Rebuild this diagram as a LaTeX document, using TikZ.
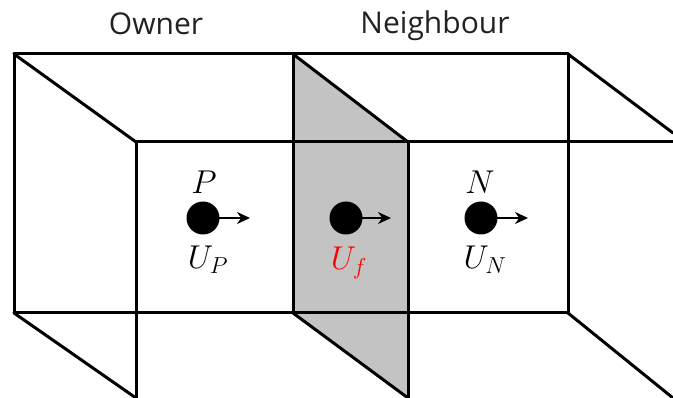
\RequirePackage{fix-cm}
\documentclass[tikz,border=0pt]{standalone}
\usepackage{fontspec}
\setmainfont{Open Sans}
\usetikzlibrary{arrows.meta}
\definecolor{facegray}{HTML}{C3C3C3}
\definecolor{labelink}{HTML}{222222}
\begin{document}
\begin{tikzpicture}[
    x=1pt,y=-1pt,
    edge/.style={draw,line width=3pt,line cap=round,line join=round},
    cell/.style={inner sep=0pt,text=labelink,font=\fontsize{30}{34}\selectfont},
    sym/.style={inner sep=0pt,font=\fontsize{33}{38}\selectfont},
    dot/.style={circle,fill=black,inner sep=0pt,outer sep=0pt,minimum size=33pt},
    vel/.style={-{Stealth[length=13pt,width=12pt]},line width=2.6pt,shorten <=-1pt}
]
\useasboundingbox (0,0) rectangle (673,398);

\coordinate (backTL) at (14,54);
\coordinate (backTM) at (293,54);
\coordinate (backTR) at (568,54);
\coordinate (backBL) at (14,313);
\coordinate (backBM) at (293,313);
\coordinate (backBR) at (568,313);
\coordinate (frontTL) at (136,142);
\coordinate (frontTM) at (408,142);
\coordinate (frontTR) at (673,142);
\coordinate (frontBL) at (136,398);
\coordinate (frontBM) at (408,398);
\coordinate (cutT) at (673,133);
\coordinate (cutB) at (673,398);

% shared face
\fill[facegray] (backTM)--(frontTM)--(frontBM)--(backBM)--cycle;

\draw[edge] (backTL)--(backTR);
\draw[edge] (backBL)--(backBR);
\draw[edge] (frontTL)--(frontTR);
\draw[edge] (backTL)--(backBL);
\draw[edge] (backTM)--(backBM);
\draw[edge] (backTR)--(backBR);
\draw[edge] (frontTL)--(frontBL);
\draw[edge] (frontTM)--(frontBM);
\draw[edge] (backTL)--(frontTL);
\draw[edge] (backTM)--(frontTM);
\draw[edge] (backTR)--(cutT);
\draw[edge] (backBL)--(frontBL);
\draw[edge] (backBM)--(frontBM);
\draw[edge] (backBR)--(cutB);

\node[cell] (owner) at (156,24) {Owner};
\node[cell] (neighbour) at (435,26) {Neighbour};

\node[dot] (dotP) at (203,218) {};
\node[dot] (dotF) at (346,218) {};
\node[dot] (dotN) at (481,218) {};
\coordinate (tipP) at (250,218);
\coordinate (tipF) at (391,218);
\coordinate (tipN) at (528,218);
\draw[vel] (dotP)--(tipP);
\draw[vel] (dotF)--(tipF);
\draw[vel] (dotN)--(tipN);

\node[sym] (labP) at (204,182) {$P$};
\node[sym] (labN) at (480,182) {$N$};
\node[sym] (labUP) at (208,260) {$U_P$};
\node[sym,text=red] (labUf) at (349,263) {$U_f$};
\node[sym] (labUN) at (485,260) {$U_N$};
\end{tikzpicture}
\end{document}
